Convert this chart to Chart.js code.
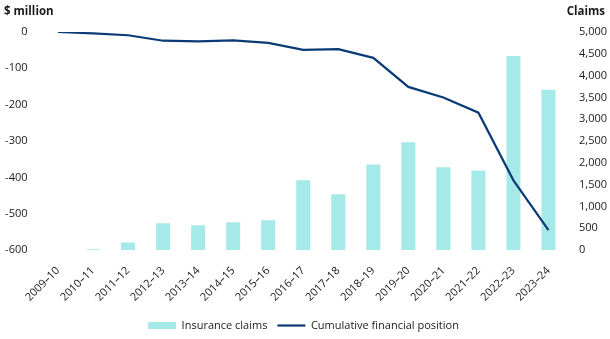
<!DOCTYPE html>
<html>
<head>
<meta charset="utf-8">
<script src="https://cdn.jsdelivr.net/npm/chart.js@4/dist/chart.umd.min.js"></script>
<style>
  html, body { margin: 0; padding: 0; background: #ffffff; }
  #wrap { width: 610px; height: 339px; position: relative; }
</style>
</head>
<body>
<div id="wrap"><canvas id="c" width="610" height="339"></canvas></div>
<script>
const categories = ["2009–10","2010–11","2011–12","2012–13","2013–14","2014–15","2015–16","2016–17","2017–18","2018–19","2019–20","2020–21","2021–22","2022–23","2023–24"];
const insuranceClaims = [0, 20, 175, 615, 570, 640, 685, 1600, 1280, 1965, 2475, 1900, 1825, 4450, 3675];
const cumulativePosition = [0, -4, -9, -24, -26, -23, -30, -49, -47, -71, -151, -180, -222, -408, -545];
const leftTitle = "$ million";
const rightTitle = "Claims";

const FONT = "'Open Sans', 'Noto Sans', sans-serif";
const TEXT = "#1a1a1a";

const titlesPlugin = {
  id: 'axisTitles',
  afterDraw(chart) {
    const ctx = chart.ctx;
    ctx.save();
    ctx.fillStyle = TEXT;
    ctx.font = "bold 11.5px " + FONT;
    ctx.textBaseline = 'middle';
    ctx.textAlign = 'left';
    ctx.fillText(leftTitle, 4, 12);
    ctx.textAlign = 'right';
    ctx.fillText(rightTitle, 605, 12);
    ctx.restore();
  }
};

new Chart(document.getElementById('c'), {
  data: {
    labels: categories,
    datasets: [
      {
        type: 'line',
        label: 'Cumulative financial position',
        data: cumulativePosition,
        yAxisID: 'y',
        borderColor: '#0b3b75',
        backgroundColor: '#0b3b75',
        borderWidth: 2.2,
        pointRadius: 0,
        pointStyle: 'line',
        tension: 0,
        order: 0
      },
      {
        type: 'bar',
        label: 'Insurance claims',
        data: insuranceClaims,
        yAxisID: 'y1',
        backgroundColor: '#a6e9e9',
        borderWidth: 0,
        pointStyle: 'rect',
        categoryPercentage: 0.8,
        barPercentage: 0.5,
        order: 1
      }
    ]
  },
  options: {
    responsive: false,
    animation: false,
    devicePixelRatio: 1,
    layout: { padding: { top: 32, right: 3, bottom: -2, left: 0 } },
    plugins: {
      legend: {
        position: 'bottom',
        reverse: true,
        labels: {
          usePointStyle: true,
          pointStyleWidth: 28,
          boxHeight: 7,
          color: TEXT,
          font: { family: FONT, size: 11 },
          padding: 10
        }
      },
      tooltip: { enabled: false },
      title: { display: false }
    },
    scales: {
      x: {
        grid: { display: false, drawTicks: false },
        border: { display: false },
        afterFit(scale) { scale.paddingLeft = 0; scale.paddingRight = 0; scale.height = scale.height - 8; },
        ticks: {
          color: TEXT,
          font: { family: FONT, size: 11 },
          maxRotation: 45,
          minRotation: 45,
          autoSkip: false,
          padding: 14
        }
      },
      y: {
        position: 'left',
        min: -600,
        max: 0,
        grid: { display: false, drawTicks: false },
        border: { display: false },
        afterFit(scale) { scale.width = 40.5; },
        ticks: {
          stepSize: 100,
          color: TEXT,
          font: { family: FONT, size: 11 },
          padding: 13
        }
      },
      y1: {
        position: 'right',
        min: 0,
        max: 5000,
        grid: { display: false, drawTicks: false },
        border: { display: false },
        afterFit(scale) { scale.width = 41; },
        ticks: {
          stepSize: 500,
          color: TEXT,
          font: { family: FONT, size: 11 },
          padding: 13,
          callback: v => v.toLocaleString('en-US')
        }
      }
    }
  },
  plugins: [titlesPlugin]
});
</script>
</body>
</html>
